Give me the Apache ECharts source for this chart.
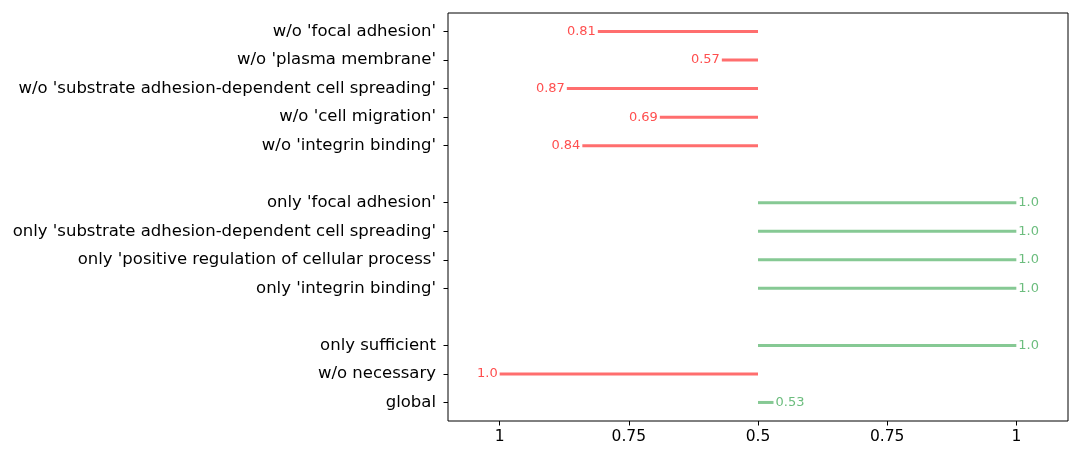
<!DOCTYPE html>
<html>
<head>
<meta charset="utf-8">
<script src="https://cdn.jsdelivr.net/npm/echarts@6/dist/echarts.min.js"></script>
<style>
  html, body { margin: 0; padding: 0; background: #fff; }
  #chart { width: 1081px; height: 456px; }
</style>
</head>
<body>
<div id="chart"></div>
<script>
// rows from bottom to top, '' marks a spacer row
var rowLabels = [
  'global',
  'w/o necessary',
  'only sufficient',
  '',
  "only 'integrin binding'",
  "only 'positive regulation of cellular process'",
  "only 'substrate adhesion-dependent cell spreading'",
  "only 'focal adhesion'",
  '',
  "w/o 'integrin binding'",
  "w/o 'cell migration'",
  "w/o 'substrate adhesion-dependent cell spreading'",
  "w/o 'plasma membrane'",
  "w/o 'focal adhesion'"
];
var scores = [0.53, 1.0, 1.0, null, 1.0, 1.0, 1.0, 1.0, null, 0.84, 0.69, 0.87, 0.57, 0.81];
// 1 = drawn to the right (green), -1 = drawn to the left (red)
var sides = [1, -1, 1, 0, 1, 1, 1, 1, 0, -1, -1, -1, -1, -1];
var xTickValues = [-0.5, -0.25, 0, 0.25, 0.5];
var xTickLabels = ['1', '0.75', '0.5', '0.75', '1'];

var RED = '#ff6e6e', RED_TXT = '#ff4f4f';
var GREEN = '#86c994', GREEN_TXT = '#6cbd7e';
var FONT = 'DejaVu Sans';

var yTicks = [];
var seriesData = [];
rowLabels.forEach(function (lab, i) {
  if (lab === '') return;
  yTicks.push(i);
  seriesData.push([sides[i] * (scores[i] - 0.5), i, scores[i], sides[i]]);
});

function fmt(v) {
  return Number.isInteger(v) ? v.toFixed(1) : String(v);
}

var chart = echarts.init(document.getElementById('chart'), null, { renderer: 'canvas' });
chart.setOption({
  animation: false,
  backgroundColor: '#fff',
  grid: { left: 448, right: 13, top: 13, bottom: 35, show: true, borderColor: '#000', borderWidth: 1, backgroundColor: 'transparent' },
  xAxis: {
    type: 'value',
    min: -0.6,
    max: 0.6,
    splitLine: { show: false },
    axisLine: { show: false, onZero: false },
    axisTick: { show: true, customValues: xTickValues, length: 4.5, lineStyle: { color: '#000', width: 1 } },
    axisLabel: {
      customValues: xTickValues,
      margin: 8,
      color: '#000',
      fontSize: 15.5,
      fontFamily: FONT,
      formatter: function (v) {
        var k = xTickValues.indexOf(Math.round(v * 100) / 100);
        return k >= 0 ? xTickLabels[k] : '';
      }
    }
  },
  yAxis: {
    type: 'value',
    min: -0.65,
    max: 13.65,
    splitLine: { show: false },
    axisLine: { show: false, onZero: false },
    axisTick: { show: true, customValues: yTicks, length: 4.5, lineStyle: { color: '#000', width: 1 } },
    axisLabel: {
      customValues: yTicks,
      margin: 12,
      color: '#000',
      fontSize: 16.5,
      fontFamily: FONT,
      formatter: function (v) { return rowLabels[Math.round(v)] || ''; }
    }
  },
  series: [{
    type: 'custom',
    data: seriesData,
    encode: { x: 0, y: 1 },
    renderItem: function (params, api) {
      var x = api.value(0), y = api.value(1), score = api.value(2), side = api.value(3);
      var p0 = api.coord([0, y]);
      var p1 = api.coord([x, y]);
      var right = side > 0;
      return {
        type: 'group',
        children: [
          {
            type: 'line',
            shape: { x1: p0[0], y1: p0[1], x2: p1[0], y2: p1[1] },
            style: { stroke: right ? GREEN : RED, lineWidth: 3 }
          },
          {
            type: 'text',
            x: p1[0] + (right ? 2 : -2),
            y: p1[1],
            style: {
              text: fmt(score),
              fill: right ? GREEN_TXT : RED_TXT,
              font: '13px ' + FONT,
              align: right ? 'left' : 'right',
              verticalAlign: 'middle'
            }
          }
        ]
      };
    }
  }]
});
</script>
</body>
</html>
